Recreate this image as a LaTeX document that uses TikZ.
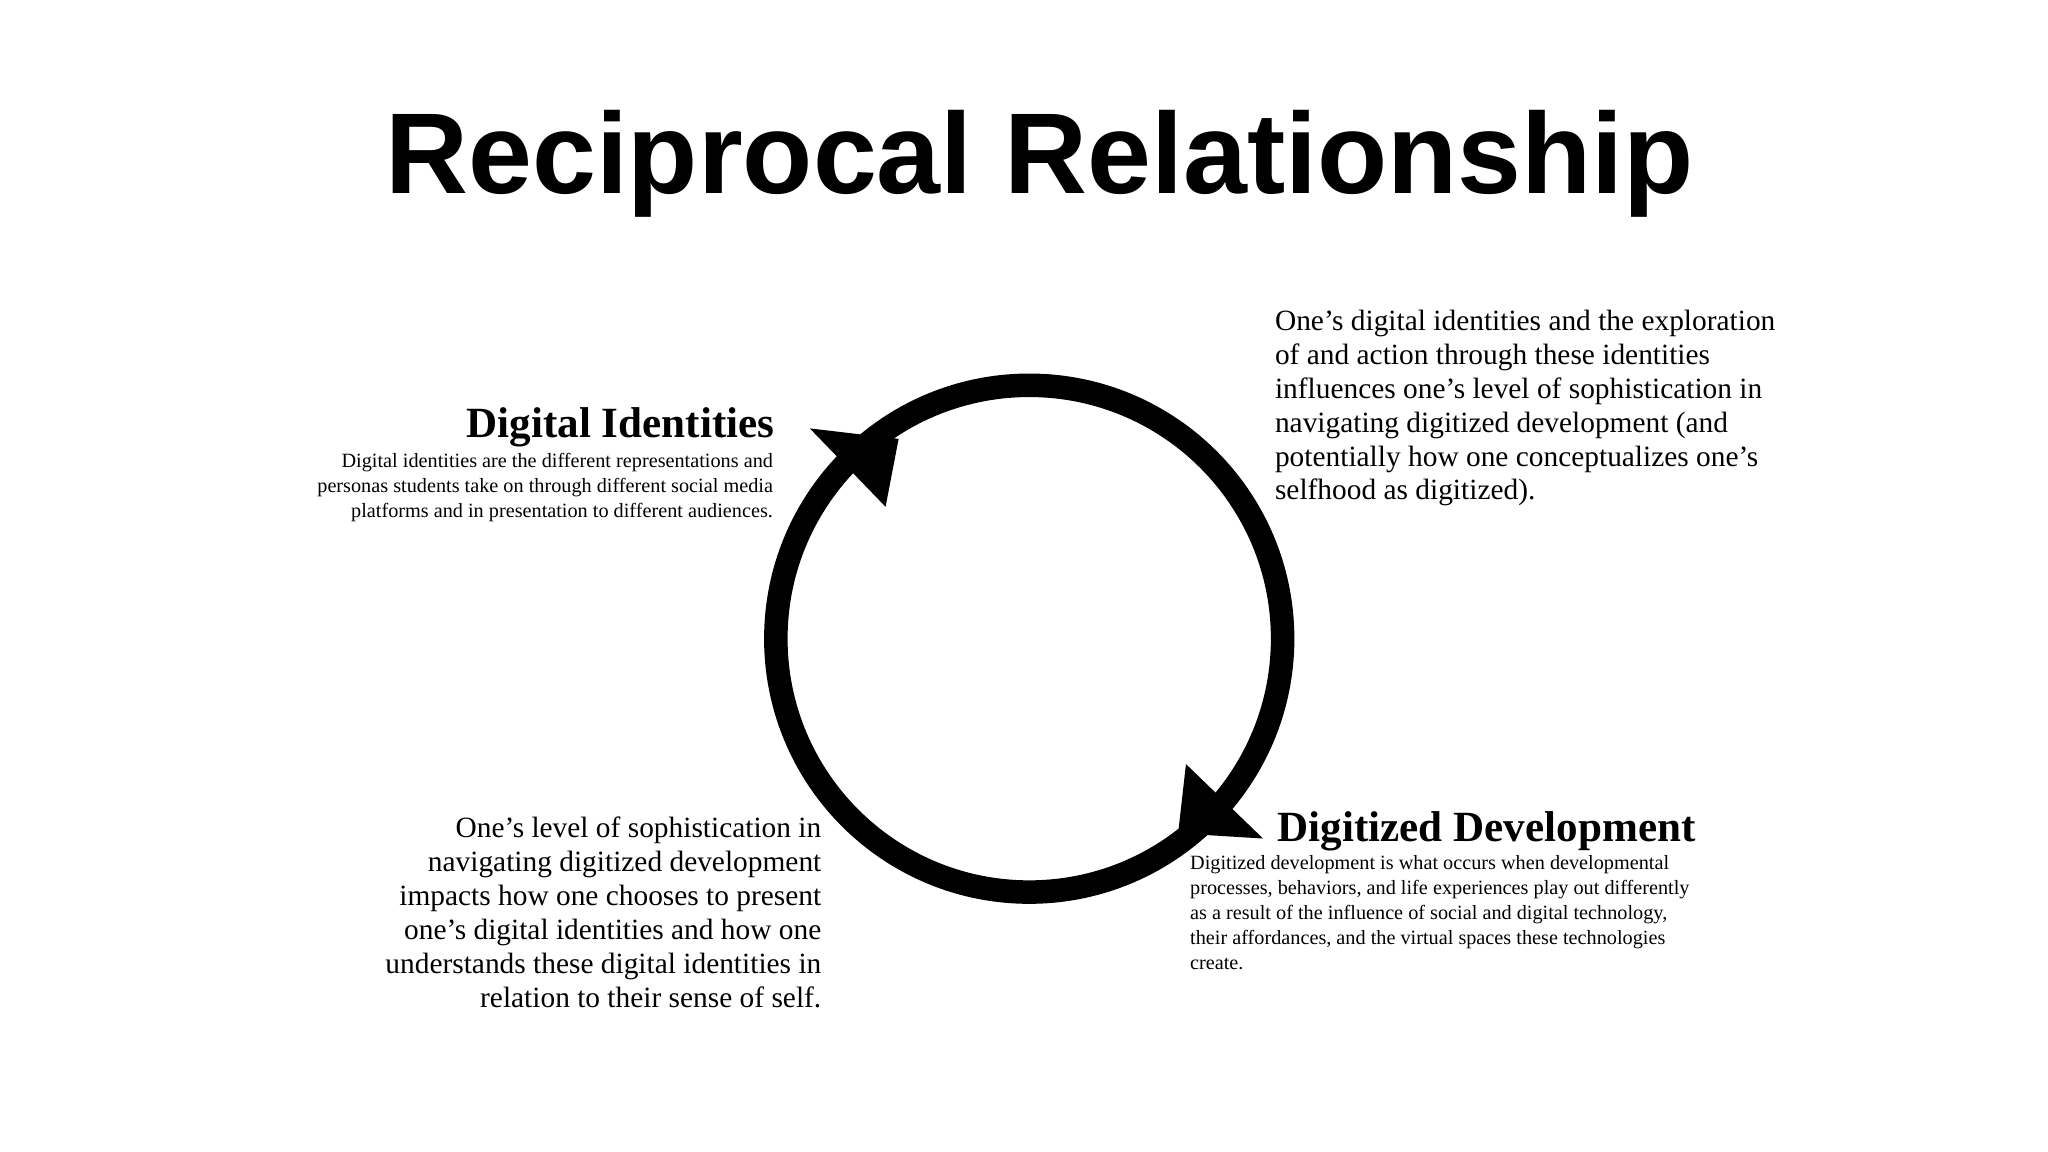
\documentclass[tikz,border=0pt]{standalone}
\usepackage{fontspec}
\setmainfont{Liberation Serif}
\newfontfamily\titlefont{Liberation Sans}
\tikzset{
  body/.style={inner sep=0pt, font=\fontsize{22.5}{26}\selectfont},
  small/.style={inner sep=0pt, font=\fontsize{15.5}{19}\selectfont},
  head/.style={inner sep=0pt, font=\fontsize{33}{38}\selectfont\bfseries},
}
\begin{document}
\begin{tikzpicture}[x=1pt,y=-1pt]
\useasboundingbox (0,0) rectangle (1568,882);
\fill[white] (0,0) rectangle (1568,882);
\node[inner sep=0pt, anchor=base] (title) at (796,148)
  {\resizebox{1002pt}{!}{\titlefont\bfseries\fontsize{100}{110}\selectfont Reciprocal Relationship}};
\node[draw, line width=18pt, circle, minimum size=388pt, inner sep=0pt] (ring) at (788,489) {};
\fill (620,328) -- (688,336) -- (678,388) -- cycle;
\fill (967,642) -- (908,585) -- (902,638) -- cycle;
\node[head, anchor=base east] (dih) at (593,335) {Digital Identities};
\node[small, anchor=north east, align=right] (dit) at (592,347)
  {Digital identities are the different representations and\\
   personas students take on through different social media\\
   platforms and in presentation to different audiences.};
\node[head, anchor=base west] (ddh) at (978,644) {Digitized Development};
\node[small, anchor=north west, align=left] (ddt) at (911,655)
  {Digitized development is what occurs when developmental\\
   processes, behaviors, and life experiences play out differently\\
   as a result of the influence of social and digital technology,\\
   their affordances, and the virtual spaces these technologies\\
   create.};
\node[body, anchor=north west, align=left] (tr) at (976,237)
  {One’s digital identities and the exploration\\
   of and action through these identities\\
   influences one’s level of sophistication in\\
   navigating digitized development (and\\
   potentially how one conceptualizes one’s\\
   selfhood as digitized).};
\node[body, anchor=north east, align=right] (bl) at (629,625)
  {One’s level of sophistication in\\
   navigating digitized development\\
   impacts how one chooses to present\\
   one’s digital identities and how one\\
   understands these digital identities in\\
   relation to their sense of self.};
\end{tikzpicture}
\end{document}
